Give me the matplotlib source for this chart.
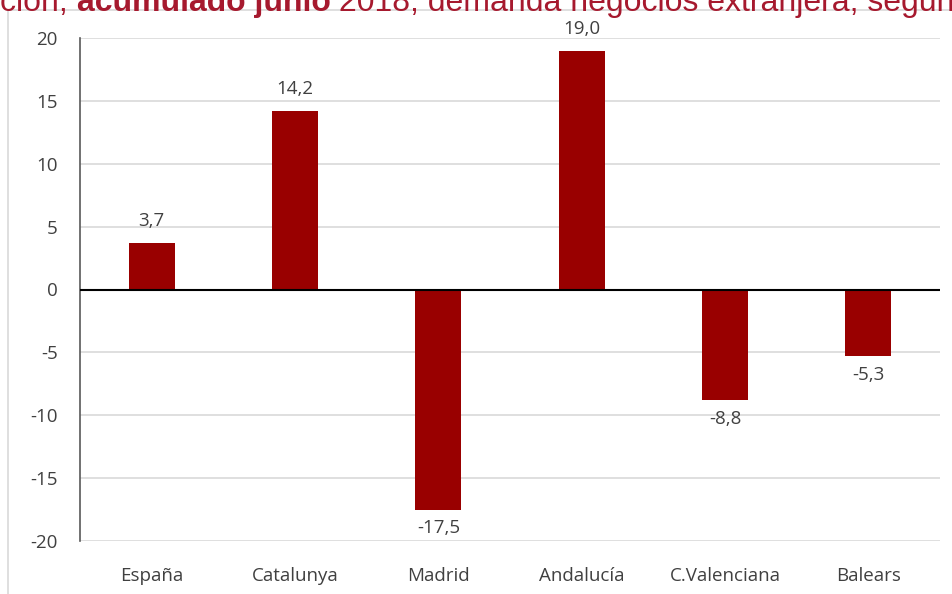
import matplotlib.pyplot as plt
from matplotlib.patches import Rectangle
import numpy as np

regiones = ['España', 'Catalunya', 'Madrid', 'Andalucía', 'C.Valenciana', 'Balears']
variacion = [3.7, 14.2, -17.5, 19.0, -8.8, -5.3]
yticks = [-20, -15, -10, -5, 0, 5, 10, 15, 20]

W, H = 953, 594
fig = plt.figure(figsize=(W / 100, H / 100), dpi=100)
plt.rcParams['font.family'] = ['Open Sans', 'DejaVu Sans']

# marco exterior del grafico (gris claro)
fig.patches.append(Rectangle((8 / W, -0.1), 1.0, 1.1 - 10 / H, transform=fig.transFigure,
                             fill=False, edgecolor='#D9D9D9', lw=1.2))

# titulo recortado arriba (solo se ve la parte baja, como en el original)
renderer = fig.canvas.get_renderer()
x = 0.0
for txt, w in [('ción, ', 'normal'), ('acumulado junio', 'bold'),
               (' 2018, demanda negocios extranjera, según', 'normal')]:
    t = fig.text(x, 1 - 11 / H, txt, color='#A6192E', fontsize=23, va='baseline', ha='left',
                 family='Liberation Sans', fontweight=w)
    bb = t.get_window_extent(renderer)
    x += bb.width / W

ax = fig.add_axes([80 / W, 1 - 541 / H, 860 / W, (541 - 38) / H])
pos = np.arange(len(regiones))
ax.bar(pos, variacion, width=0.32, color='#990000', zorder=3)
ax.set_xlim(-0.5, len(regiones) - 0.5)
ax.set_ylim(-20, 20)
ax.set_yticks(yticks)
ax.set_yticklabels([str(v) for v in yticks])
ax.set_xticks(pos)
ax.set_xticklabels(regiones)
ax.grid(axis='y', color='#D9D9D9', lw=1.2, zorder=0)
ax.axhline(0, color='black', lw=1.5, zorder=4)
for s in ['top', 'right', 'bottom']:
    ax.spines[s].set_visible(False)
ax.spines['left'].set_color('#595959')
ax.spines['left'].set_linewidth(1.2)
ax.tick_params(axis='both', length=0, labelsize=13.5, colors='#404040')
ax.tick_params(axis='y', pad=16)
ax.tick_params(axis='x', pad=19)

for p, v in zip(pos, variacion):
    lbl = f'{v:.1f}'.replace('.', ',')
    if v >= 0:
        ax.annotate(lbl, (p, v), xytext=(0, 9), textcoords='offset points', ha='center',
                    va='bottom', fontsize=13.5, color='#404040')
    else:
        ax.annotate(lbl, (p, v), xytext=(0, -7), textcoords='offset points', ha='center',
                    va='top', fontsize=13.5, color='#404040')

fig.savefig('out.png', dpi=100)
